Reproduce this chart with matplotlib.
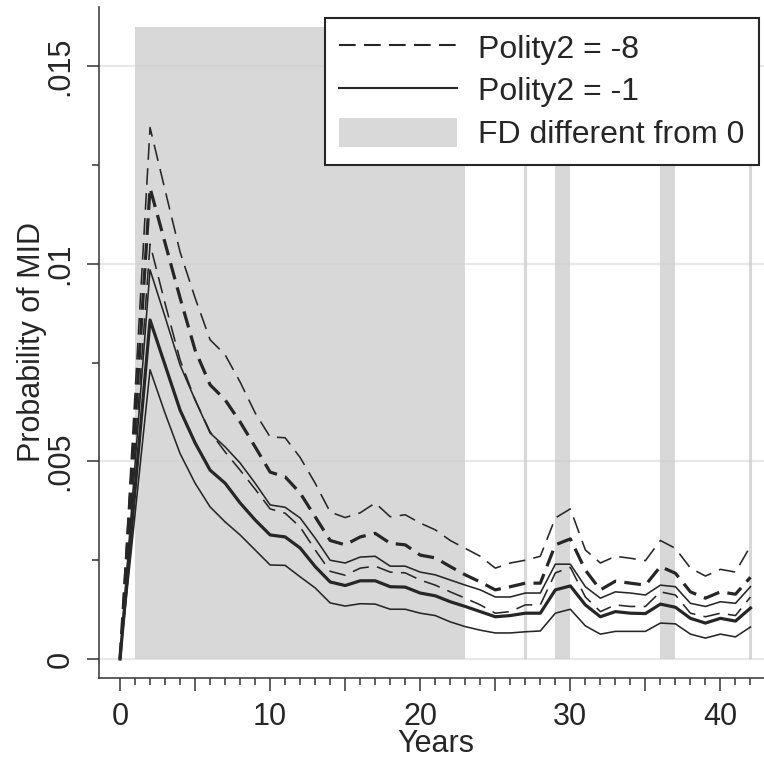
import numpy as np
import matplotlib
matplotlib.use("Agg")
from matplotlib import pyplot as plt
from matplotlib.patches import Patch
from matplotlib.lines import Line2D

plt.rcParams["font.family"] = ["Liberation Sans", "DejaVu Sans"]
plt.rcParams["lines.scale_dashes"] = False

# years (year 1 is not a vertex of the curves, lines run straight from 0 to 2)
years = [0, 2, 3, 4, 5, 6, 7, 8, 9, 10, 11, 12, 13, 14, 15, 16, 17, 18, 19, 20, 21,
         22, 23, 24, 25, 26, 27, 28, 29, 30, 31, 32, 33, 34, 35, 36, 37, 38, 39, 40, 41, 42]

# Polity2 = -8 : upper CI, point estimate, lower CI
hi8 = [0, .01345, .01187, .0103, .00914, .00808, .00770, .00701, .00623, .00562, .0056,
       .0051, .00445, .00372, .00358, .0037, .00395, .0036, .00365, .00344, .00327,
       .0030, .0028, .0026, .0023, .00243, .0025, .0026, .00357, .0038, .00276,
       .00243, .0026, .00255, .00249, .0030, .0028, .0023, .0021, .00227, .0022, .00286]
p8 = [0, .01192, .01053, .00914, .00782, .00694, .00656, .00600, .00537, .00473, .00461,
      .0042, .0036, .0030, .00289, .00309, .00318, .00293, .00289, .00263, .00256,
      .00234, .00213, .00195, .00175, .00183, .00192, .00192, .00289, .00304, .00225,
      .00175, .00197, .00192, .00187, .00234, .00217, .0017, .00154, .0017, .00164, .00207]
lo8 = [0, .0105, .0090, .00757, .00656, .00575, .00524, .00478, .0043, .0038, .00369,
       .00334, .00276, .00222, .00212, .0023, .00235, .0022, .00218, .0020, .00187,
       .0017, .00154, .00137, .00116, .0012, .00137, .00137, .00218, .00232, .00157,
       .0012, .00137, .00133, .00133, .0017, .00162, .00116, .00107, .00116, .0011, .00157]

# Polity2 = -1 : upper CI, point estimate, lower CI
hi1 = [0, .00985, .00866, .00744, .00656, .00572, .00537, .00496, .00445, .0039, .00384,
       .00357, .00306, .0025, .00243, .00258, .0026, .00235, .00235, .0022, .00213,
       .0020, .00187, .00175, .00157, .00157, .00167, .00167, .0024, .0024, .00183,
       .00154, .0017, .00167, .00162, .00187, .00183, .00141, .00133, .00145, .00141, .00183]
p1 = [0, .00858, .00744, .0063, .00547, .00478, .00445, .00395, .00352, .00314, .00309,
      .00281, .00234, .00195, .00186, .00198, .00198, .00183, .00182, .00167, .0016,
      .00145, .00133, .0012, .00107, .0011, .00116, .00116, .00175, .00185, .00137,
      .00107, .0012, .00116, .00115, .00139, .00131, .00103, .00091, .00103, .00096, .00129]
lo1 = [0, .00732, .00622, .0052, .00445, .00385, .00347, .00314, .00276, .00238, .00237,
       .00208, .0018, .00142, .00134, .0014, .00139, .00126, .00126, .00116, .0011,
       .00094, .00082, .00073, .00066, .00066, .00069, .00071, .00116, .00126, .00084,
       .00063, .0007, .0007, .0007, .00091, .00089, .00063, .00053, .00063, .00056, .00081]

# years where the first difference is different from 0
sig_years = list(range(1, 24)) + [27, 29, 30, 36, 37, 42]
band_top = 0.016

ink = "#262626"
band_col = "#cbcbcb"

fig = plt.figure(figsize=(7.64, 7.59), dpi=100)
ax = fig.add_axes([99 / 764, 1 - 678 / 759, 674 / 764, 671 / 759])

# shaded bands: group consecutive years
runs = []
for y in sig_years:
    if runs and y == runs[-1][1] + 1:
        runs[-1][1] = y
    else:
        runs.append([y, y])
for a, b in runs:
    if b > a:
        ax.fill_between([a, b], 0, band_top, color=band_col, alpha=0.74,
                        linewidth=0, zorder=1)
    else:
        ax.plot([a, a], [0, band_top], color=band_col, alpha=0.74, lw=2.2,
                solid_capstyle="butt", zorder=1)

thin, thick = 1.15, 2.3
dash = (0, (12, 6))
ax.plot(years, hi8, color=ink, lw=thin, linestyle=dash, zorder=3)
ax.plot(years, lo8, color=ink, lw=thin, linestyle=dash, zorder=3)
ax.plot(years, p8, color=ink, lw=thick, linestyle=dash, zorder=3)
ax.plot(years, hi1, color=ink, lw=thin, zorder=3)
ax.plot(years, lo1, color=ink, lw=thin, zorder=3)
ax.plot(years, p1, color=ink, lw=thick, zorder=3)

ax.set_xlim(-1.4, 43.5)
ax.set_ylim(-0.00048, 0.0165)

ax.set_yticks([0, .005, .01, .015])
ax.set_yticklabels(["0", ".005", ".01", ".015"], rotation=90, va="center")
ax.set_yticks(np.arange(0, 0.0151, 0.0025), minor=True)
ax.set_xticks(range(0, 41, 5))
ax.set_xticklabels(["0", "", "10", "", "20", "", "30", "", "40"])
ax.set_xticks(range(0, 43), minor=True)

ax.grid(axis="y", color="#e8e8e8", lw=1.6, zorder=0.5)
ax.set_axisbelow(True)

for s in ["top", "right"]:
    ax.spines[s].set_visible(False)
for s in ["left", "bottom"]:
    ax.spines[s].set_color("#333333")
    ax.spines[s].set_linewidth(1.1)

ax.tick_params(axis="both", which="major", length=9, width=1.1, color="#333333",
               labelsize=22, labelcolor="#262626")
ax.tick_params(axis="both", which="minor", length=5, width=1.1, color="#333333")
ax.tick_params(axis="y", which="major", pad=8)
ax.tick_params(axis="x", which="major", pad=8)

ax.set_xlabel("Years", fontsize=22, color="#262626", labelpad=-2)
ax.set_ylabel("Probability of MID", fontsize=22, color="#262626", labelpad=-1)

handles = [Line2D([], [], color=ink, lw=1.5, linestyle=dash),
           Line2D([], [], color=ink, lw=1.5),
           Patch(facecolor="#d9d9d9", edgecolor="none")]
labels = ["Polity2 = -8", "Polity2 = -1", "FD different from 0"]
leg = ax.legend(handles, labels, loc="upper right",
                bbox_to_anchor=(759 / 764, 1 - 18 / 759),
                bbox_transform=fig.transFigure, borderaxespad=0,
                fontsize=23, fancybox=False, framealpha=1, edgecolor="#262626",
                handlelength=3.7, handleheight=1.0, handletextpad=0.65,
                labelspacing=0.33, borderpad=0.45)
leg.get_frame().set_linewidth(1.5)
for t in leg.get_texts():
    t.set_color("#262626")

fig.savefig("out.png", dpi=100)
